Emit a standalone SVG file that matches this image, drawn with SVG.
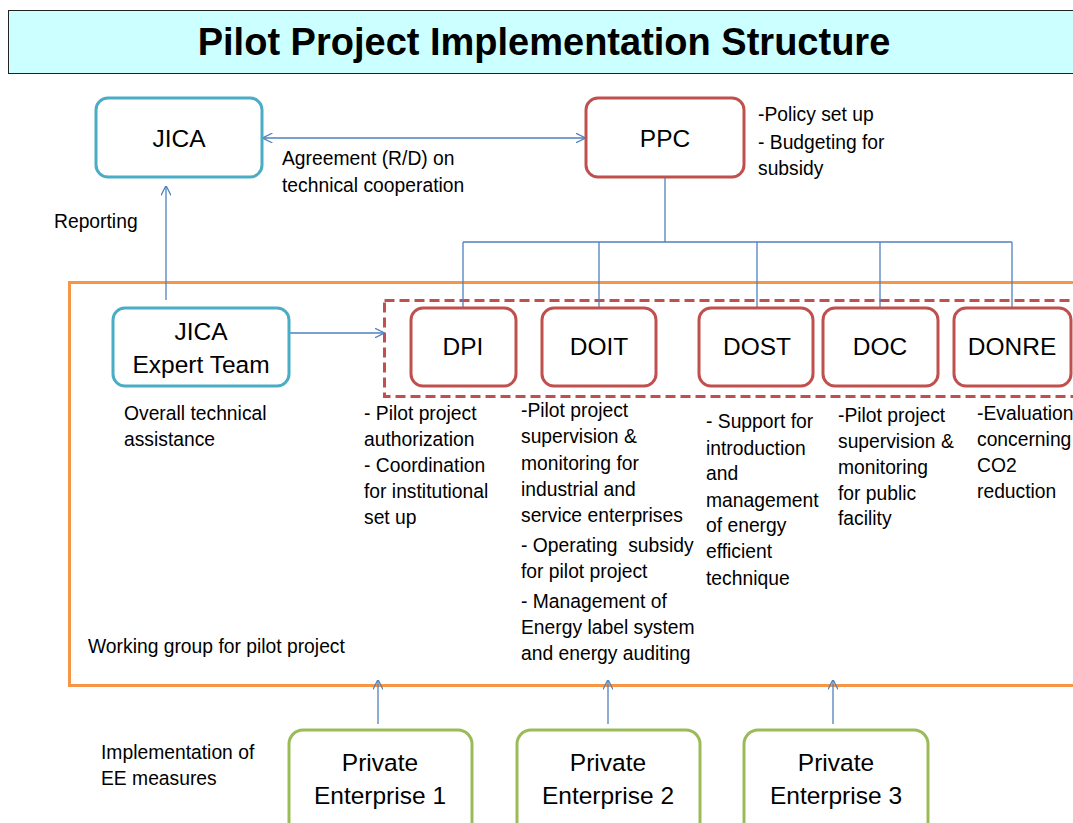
<svg xmlns="http://www.w3.org/2000/svg" width="1073" height="823" viewBox="0 0 1073 823">
<style>
text{font-family:"Liberation Sans",Arial,sans-serif;fill:#000}
.lbl{font-size:24.5px;text-anchor:middle}
.t{font-size:19.3px}
.blue{fill:#fff;stroke:#4BACC6;stroke-width:3}
.red{fill:#fff;stroke:#C0504D;stroke-width:3}
.green{fill:#fff;stroke:#9BBB59;stroke-width:3}
.c{fill:none;stroke:#4F81BD;stroke-width:1.3}
</style>
<defs>
<marker id="ah" viewBox="0 0 10 10" refX="9.5" refY="5" markerWidth="10" markerHeight="10" markerUnits="userSpaceOnUse" orient="auto-start-reverse">
<path d="M0,0 L10,5 L0,10" fill="none" stroke="#4F81BD" stroke-width="1.3"/>
</marker>
</defs>
<rect width="1073" height="823" fill="#fff"/>
<g id="title">
<rect x="8.5" y="10.5" width="1080" height="63" fill="#CCFFFF" stroke="#222" stroke-width="1"/>
<text x="544" y="55" font-size="38" font-weight="bold" text-anchor="middle">Pilot Project Implementation Structure</text>
</g>
<g id="working-group">
<rect x="69.5" y="282.5" width="1030" height="403" fill="none" stroke="#F79646" stroke-width="3"/>
<text class="t" x="88" y="653">Working group for pilot project</text>
</g>
<g id="dept-group">
<rect x="384.5" y="300.5" width="720" height="96" fill="none" stroke="#C0504D" stroke-width="3" stroke-dasharray="10,5"/>
</g>
<g id="connectors">
<line class="c" x1="263" y1="138" x2="585" y2="138" marker-start="url(#ah)" marker-end="url(#ah)"/>
<line class="c" x1="166" y1="300" x2="166" y2="186" marker-end="url(#ah)"/>
<line class="c" x1="289" y1="333" x2="384" y2="333" marker-end="url(#ah)"/>
<polyline class="c" points="665,177 665,242"/>
<line class="c" x1="463" y1="242" x2="1012" y2="242"/>
<line class="c" x1="463" y1="242" x2="463" y2="308"/>
<line class="c" x1="599" y1="242" x2="599" y2="308"/>
<line class="c" x1="757" y1="242" x2="757" y2="308"/>
<line class="c" x1="880" y1="242" x2="880" y2="308"/>
<line class="c" x1="1012" y1="242" x2="1012" y2="308"/>
<line class="c" x1="378" y1="724" x2="378" y2="680" marker-end="url(#ah)"/>
<line class="c" x1="608" y1="724" x2="608" y2="680" marker-end="url(#ah)"/>
<line class="c" x1="833" y1="724" x2="833" y2="680" marker-end="url(#ah)"/>
</g>
<g id="jica">
<rect class="blue" x="96" y="98" width="166" height="79" rx="12"/>
<text class="lbl" x="179" y="147">JICA</text>
<text class="t" x="54" y="228">Reporting</text>
</g>
<g id="agreement-label">
<text class="t" x="282" y="165">Agreement (R/D) on</text>
<text class="t" x="282" y="192">technical cooperation</text>
</g>
<g id="ppc">
<rect class="red" x="586" y="98" width="158" height="79" rx="12"/>
<text class="lbl" x="665" y="147">PPC</text>
<text class="t" x="758" y="121">-Policy set up</text>
<text class="t" x="758" y="149">- Budgeting for</text>
<text class="t" x="758" y="175">subsidy</text>
</g>
<g id="jica-expert-team">
<rect class="blue" x="113" y="308" width="176" height="78" rx="12"/>
<text class="lbl" x="201" y="340">JICA</text>
<text class="lbl" x="201" y="373">Expert Team</text>
<text class="t" x="124" y="420">Overall technical</text>
<text class="t" x="124" y="446">assistance</text>
</g>
<g id="dpi">
<rect class="red" x="411" y="308" width="105" height="78" rx="12"/>
<text class="lbl" x="463" y="355">DPI</text>
<text class="t" x="364" y="420">- Pilot project</text>
<text class="t" x="364" y="446">authorization</text>
<text class="t" x="364" y="472">- Coordination</text>
<text class="t" x="364" y="498">for institutional</text>
<text class="t" x="364" y="524">set up</text>
</g>
<g id="doit">
<rect class="red" x="542" y="308" width="114" height="78" rx="12"/>
<text class="lbl" x="599" y="355">DOIT</text>
<text class="t" x="521" y="417">-Pilot project</text>
<text class="t" x="521" y="443">supervision &amp;</text>
<text class="t" x="521" y="470">monitoring for</text>
<text class="t" x="521" y="496">industrial and</text>
<text class="t" x="521" y="522">service enterprises</text>
<text class="t" x="521" y="552" xml:space="preserve">- Operating  subsidy</text>
<text class="t" x="521" y="578">for pilot project</text>
<text class="t" x="521" y="608">- Management of</text>
<text class="t" x="521" y="634">Energy label system</text>
<text class="t" x="521" y="660">and energy auditing</text>
</g>
<g id="dost">
<rect class="red" x="699" y="308" width="114" height="78" rx="12"/>
<text class="lbl" x="757" y="355">DOST</text>
<text class="t" x="706" y="428">- Support for</text>
<text class="t" x="706" y="455">introduction</text>
<text class="t" x="706" y="480">and</text>
<text class="t" x="706" y="507">management</text>
<text class="t" x="706" y="532">of energy</text>
<text class="t" x="706" y="558">efficient</text>
<text class="t" x="706" y="585">technique</text>
</g>
<g id="doc">
<rect class="red" x="823" y="308" width="115" height="78" rx="12"/>
<text class="lbl" x="880" y="355">DOC</text>
<text class="t" x="838" y="422">-Pilot project</text>
<text class="t" x="838" y="448">supervision &amp;</text>
<text class="t" x="838" y="474">monitoring</text>
<text class="t" x="838" y="500">for public</text>
<text class="t" x="838" y="525">facility</text>
</g>
<g id="donre">
<rect class="red" x="954" y="308" width="117" height="78" rx="12"/>
<text class="lbl" x="1012" y="355">DONRE</text>
<text class="t" x="977" y="420">-Evaluation</text>
<text class="t" x="977" y="446">concerning</text>
<text class="t" x="977" y="472">CO2</text>
<text class="t" x="977" y="498">reduction</text>
</g>
<g id="implementation-label">
<text class="t" x="101" y="759">Implementation of</text>
<text class="t" x="101" y="785">EE measures</text>
</g>
<g id="pe1">
<rect class="green" x="289" y="730" width="183" height="110" rx="14"/>
<text class="lbl" x="380" y="771">Private</text>
<text class="lbl" x="380" y="804">Enterprise 1</text>
</g>
<g id="pe2">
<rect class="green" x="517" y="730" width="183" height="110" rx="14"/>
<text class="lbl" x="608" y="771">Private</text>
<text class="lbl" x="608" y="804">Enterprise 2</text>
</g>
<g id="pe3">
<rect class="green" x="744" y="730" width="184" height="110" rx="14"/>
<text class="lbl" x="836" y="771">Private</text>
<text class="lbl" x="836" y="804">Enterprise 3</text>
</g>
</svg>
